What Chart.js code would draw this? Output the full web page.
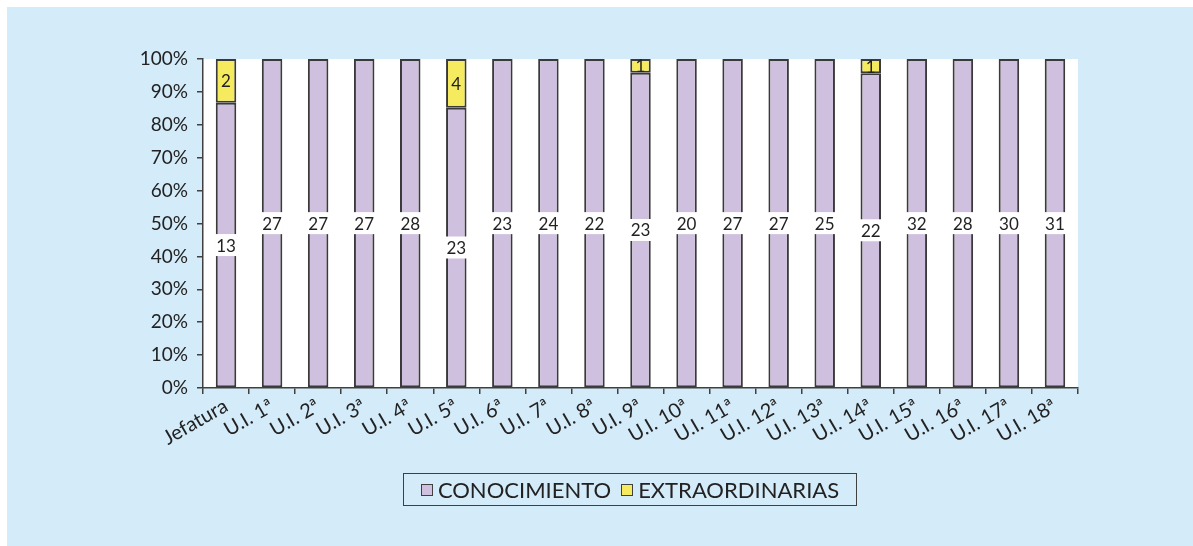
<!DOCTYPE html>
<html>
<head>
<meta charset="utf-8">
<title>Conocimiento / Extraordinarias</title>
<script src="https://cdn.jsdelivr.net/npm/chart.js@4.4.1/dist/chart.umd.min.js"></script>
<style>
  body { margin: 0; background: #fff; font-family: Lato, "Open Sans", sans-serif; }
  #panel { position: absolute; left: 7px; top: 7px; width: 1186px; height: 539px; background: #d4ebf9; }
  #legend { position: absolute; left: 396px; top: 466px; width: 452px; height: 31px; border: 1.5px solid #404040;
            display: flex; align-items: center; justify-content: center; gap: 10px; font-size: 22px; color: #222; }
  .item { display: flex; align-items: center; gap: 5px; }
  .sw { width: 10px; height: 10px; border: 1.5px solid #404040; }
</style>
</head>
<body>
<div id="panel">
  <canvas id="myChart"></canvas>
  <div id="legend"></div>
</div>
<script>
  const categories = ['Jefatura', 'U.I. 1ª', 'U.I. 2ª', 'U.I. 3ª', 'U.I. 4ª', 'U.I. 5ª', 'U.I. 6ª', 'U.I. 7ª', 'U.I. 8ª', 'U.I. 9ª',
    'U.I. 10ª', 'U.I. 11ª', 'U.I. 12ª', 'U.I. 13ª', 'U.I. 14ª', 'U.I. 15ª', 'U.I. 16ª', 'U.I. 17ª', 'U.I. 18ª'];
  const conocimiento = [13, 27, 27, 27, 28, 23, 23, 24, 22, 23, 20, 27, 27, 25, 22, 32, 28, 30, 31];
  const extraordinarias = [2, 0, 0, 0, 0, 4, 0, 0, 0, 1, 0, 0, 0, 0, 1, 0, 0, 0, 0];
  const yTicks = [0, 10, 20, 30, 40, 50, 60, 70, 80, 90, 100];

  const totals = conocimiento.map((v, i) => v + extraordinarias[i]);
  // empty segments are left out so they draw no border
  const pct = arr => arr.map((v, i) => v ? v / totals[i] * 100 : null);

  const series = [
    { label: 'CONOCIMIENTO', counts: conocimiento, color: '#cec0de' },
    { label: 'EXTRAORDINARIAS', counts: extraordinarias, color: '#f6ea5e' }
  ];

  // labels in the middle of each segment, on a white box
  const valueLabels = {
    id: 'valueLabels',
    afterDatasetsDraw(chart) {
      const ctx = chart.ctx;
      ctx.save();
      ctx.font = '17px Lato';
      ctx.textAlign = 'center';
      ctx.textBaseline = 'middle';
      chart.data.datasets.forEach((ds, di) => {
        chart.getDatasetMeta(di).data.forEach((bar, i) => {
          const n = ds.counts[i];
          if (!n) return;
          const y = (bar.y + bar.base) / 2;
          const txt = String(n);
          const w = ctx.measureText(txt).width;
          if (di === 0) {
            ctx.fillStyle = '#fff';
            ctx.fillRect(bar.x - w / 2 - 1, y - 11, w + 2, 22);
          }
          ctx.fillStyle = '#222';
          ctx.fillText(txt, bar.x, y + 1);
        });
      });
      ctx.restore();
    }
  };

  const whitePlot = {
    id: 'whitePlot',
    beforeDraw(chart) {
      const a = chart.chartArea;
      chart.ctx.save();
      chart.ctx.fillStyle = '#fff';
      chart.ctx.fillRect(a.left, a.top, a.right - a.left, a.bottom - a.top);
      chart.ctx.restore();
    }
  };

  Chart.defaults.font.family = 'Lato';
  Chart.defaults.color = '#222';

  new Chart(document.getElementById('myChart'), {
    type: 'bar',
    data: {
      labels: categories,
      datasets: series.map(s => ({
        label: s.label,
        data: pct(s.counts),
        counts: s.counts,
        backgroundColor: s.color,
        borderColor: '#3a3a3a',
        borderWidth: 2,
        borderSkipped: false,
        categoryPercentage: 1,
        barPercentage: 0.445
      }))
    },
    options: {
      responsive: true,
      maintainAspectRatio: false,
      animation: false,
      layout: { padding: { top: 52, right: 115, left: 0, bottom: 0 } },
      plugins: { legend: { display: false }, tooltip: { enabled: false } },
      scales: {
        x: {
          stacked: true,
          afterFit: s => { s.height = 158; },
          grid: { offset: true, drawOnChartArea: false, drawTicks: true, tickLength: 6, color: '#404040', lineWidth: 1.5 },
          border: { color: '#404040', width: 1.5 },
          ticks: { autoSkip: false, minRotation: 30, maxRotation: 30, font: { size: 20 }, padding: 0, color: '#222' }
        },
        y: {
          stacked: true,
          min: 0,
          max: 100,
          afterFit: s => { s.width = 196; },
          afterBuildTicks: s => { s.ticks = yTicks.map(v => ({ value: v })); },
          grid: { drawOnChartArea: false, drawTicks: true, tickLength: 6, color: '#404040', lineWidth: 1.5 },
          border: { color: '#404040', width: 1.5 },
          ticks: { callback: v => v + '%', font: { size: 19 }, padding: 9, color: '#222' }
        }
      }
    },
    plugins: [whitePlot, valueLabels]
  });

  const legend = document.getElementById('legend');
  series.forEach(s => {
    const it = document.createElement('div');
    it.className = 'item';
    it.innerHTML = '<span class="sw" style="background:' + s.color + '"></span><span>' + s.label + '</span>';
    legend.appendChild(it);
  });
</script>
</body>
</html>
